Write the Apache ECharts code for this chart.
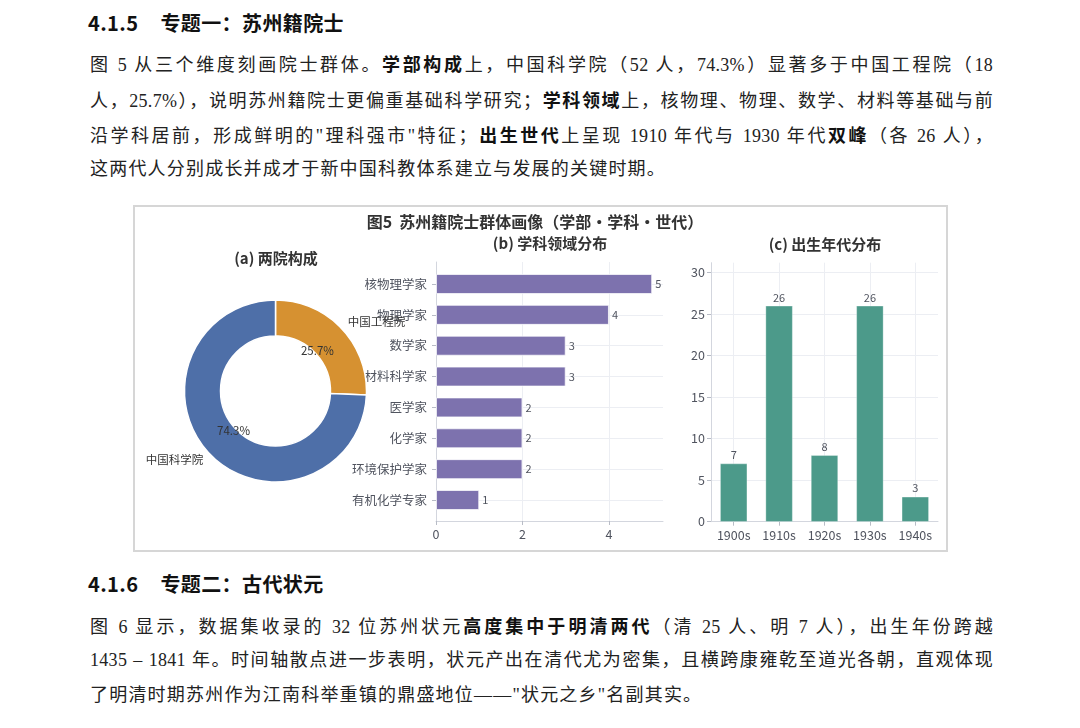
<!DOCTYPE html>
<html>
<head>
<meta charset="utf-8">
<script src="https://cdn.jsdelivr.net/npm/echarts@6/dist/echarts.min.js"></script>
<style>
  html, body { margin: 0; padding: 0; background: #fff; }
  body { width: 1080px; height: 728px; position: relative; overflow: hidden; }
  .h { position: absolute; left: 88px; height: 30px; line-height: 30px; font-family: "Noto Sans CJK SC", sans-serif; font-weight: 700; font-size: 20px; letter-spacing: 0.4px; color: #111; white-space: nowrap; }
  .h .t { margin-left: 22px; }
  .ln { position: absolute; left: 90px; width: 903px; height: 30px; line-height: 30px; font-family: "Liberation Serif", "Noto Sans CJK SC", serif; font-size: 18px; letter-spacing: 1.2px; color: #222; white-space: nowrap; }
  .j { text-align: justify; text-align-last: justify; white-space: normal; letter-spacing: 0.3px; }
  .ln b { font-family: "Noto Sans CJK SC", sans-serif; font-weight: 700; color: #111; }
  #frame { position: absolute; left: 133px; top: 205px; width: 815px; height: 347px; box-sizing: border-box; border: 2px solid #d6d6d6; }
  #container { position: absolute; left: 135px; top: 207px; width: 810px; height: 342px; }
</style>
</head>
<body>
<div class="h" style="top:8px"><span>4.1.5</span><span class="t">专题一：苏州籍院士</span></div>
<div class="ln j" style="top:48px">图 5 从三个维度刻画院士群体。<b>学部构成</b>上，中国科学院（52 人，74.3%）显著多于中国工程院（18</div>
<div class="ln j" style="top:84px">人，25.7%），说明苏州籍院士更偏重基础科学研究；<b>学科领域</b>上，核物理、物理、数学、材料等基础与前</div>
<div class="ln j" style="top:119px">沿学科居前，形成鲜明的"理科强市"特征；<b>出生世代</b>上呈现 1910 年代与 1930 年代<b>双峰</b>（各 26 人），</div>
<div class="ln" style="top:154px">这两代人分别成长并成才于新中国科教体系建立与发展的关键时期。</div>

<div id="frame"></div>
<div id="container"></div>

<div class="h" style="top:569px"><span>4.1.6</span><span class="t">专题二：古代状元</span></div>
<div class="ln j" style="top:610px">图 6 显示，数据集收录的 32 位苏州状元<b>高度集中于明清两代</b>（清 25 人、明 7 人），出生年份跨越</div>
<div class="ln j" style="top:645px">1435 – 1841 年。时间轴散点进一步表明，状元产出在清代尤为密集，且横跨康雍乾至道光各朝，直观体现</div>
<div class="ln" style="top:680px">了明清时期苏州作为江南科举重镇的鼎盛地位——"状元之乡"名副其实。</div>

<script type="text/javascript">
// data
var academyNames = ['中国工程院', '中国科学院'];
var academyCounts = [18, 52];
var academyColors = ['#D69131', '#4E6FA8'];

var fieldNames = ['核物理学家', '物理学家', '数学家', '材料科学家', '医学家', '化学家', '环境保护学家', '有机化学专家'];
var fieldCounts = [5, 4, 3, 3, 2, 2, 2, 1];

var decadeNames = ['1900s', '1910s', '1920s', '1930s', '1940s'];
var decadeCounts = [7, 26, 8, 26, 3];

var FONT = 'Noto Sans CJK SC';
var labelColor = '#50545f';
var gridColor = '#eceef3';
var spineColor = '#d3d6de';

var dom = document.getElementById('container');
var myChart = echarts.init(dom);

var pieData = academyNames.map(function (n, i) {
    return { name: n, value: academyCounts[i], itemStyle: { color: academyColors[i] } };
});

function titleOf(text, x, y, size) {
    return {
        text: text,
        left: x,
        top: y - (size + 4) / 2,
        padding: 0,
        textAlign: 'center',
        textVerticalAlign: 'top',
        textStyle: { fontFamily: FONT, fontSize: size, fontWeight: 'bold', color: '#333', lineHeight: size + 4 }
    };
}

var option = {
    animation: false,
    textStyle: { fontFamily: FONT },
    title: [
        titleOf('图5  苏州籍院士群体画像（学部・学科・世代）', 400, 15, 16),
        titleOf('(a) 两院构成', 141, 51, 15),
        titleOf('(b) 学科领域分布', 415, 36, 15),
        titleOf('(c) 出生年代分布', 690, 37, 15)
    ],
    grid: [
        { left: 301, right: 282, top: 55, bottom: 28 },   // (b) frame
        { left: 301, right: 282, top: 77, bottom: 49 },   // (b) bars
        { left: 576, right: 7, top: 55.7, bottom: 27.3 }  // (c)
    ],
    xAxis: [
        {
            gridIndex: 0, type: 'value', min: 0, max: 5.25, interval: 2,
            axisLine: { show: true, lineStyle: { color: spineColor } },
            axisTick: { show: true, length: 4, lineStyle: { color: '#b8bcc6' } },
            axisLabel: { color: labelColor, fontSize: 12.5, margin: 7, showMaxLabel: false },
            splitLine: { show: true, showMaxLine: false, lineStyle: { color: gridColor } }
        },
        { gridIndex: 1, type: 'value', min: 0, max: 5.25, show: false },
        {
            gridIndex: 2, type: 'category', data: decadeNames,
            axisLine: { show: true, lineStyle: { color: spineColor } },
            axisTick: { show: true, alignWithLabel: true, length: 4, lineStyle: { color: '#b8bcc6' } },
            axisLabel: { color: labelColor, fontSize: 12.5, margin: 7 },
            splitLine: { show: true, alignWithLabel: true, lineStyle: { color: gridColor } }
        }
    ],
    yAxis: [
        {
            gridIndex: 0, type: 'value', min: 0, max: 1,
            axisLine: { show: true, lineStyle: { color: spineColor } },
            axisTick: { show: false }, axisLabel: { show: false }, splitLine: { show: false }
        },
        {
            gridIndex: 1, type: 'category', data: fieldNames, inverse: true, boundaryGap: false,
            axisLine: { show: false },
            axisTick: { show: true, length: 4, lineStyle: { color: '#b8bcc6' } },
            axisLabel: { color: labelColor, fontSize: 12.5, margin: 9 },
            splitLine: { show: true, lineStyle: { color: gridColor } }
        },
        {
            gridIndex: 2, type: 'value', min: 0, max: 31.2, interval: 5,
            axisLine: { show: true, lineStyle: { color: spineColor } },
            axisTick: { show: true, length: 4, lineStyle: { color: '#b8bcc6' } },
            axisLabel: { color: labelColor, fontSize: 12.5, margin: 6, showMaxLabel: false },
            splitLine: { show: true, showMaxLine: false, lineStyle: { color: gridColor } }
        }
    ],
    series: [
        {
            name: '两院', type: 'pie',
            center: [140.5, 184], radius: [55, 91],
            startAngle: 90, clockwise: true,
            avoidLabelOverlap: false,
            itemStyle: { borderColor: '#fff', borderWidth: 1.5 },
            label: { show: true, position: 'outside', formatter: '{b}', color: '#333', fontSize: 11.5, distanceToLabelLine: 0 },
            labelLine: { show: false, length: 9, length2: 0 },
            emphasis: { disabled: true },
            data: pieData
        },
        {
            name: '占比', type: 'pie', silent: true,
            center: [140.5, 184], radius: [0, 110],
            startAngle: 90, clockwise: true,
            percentPrecision: 1,
            itemStyle: { color: 'transparent', borderWidth: 0 },
            label: { show: true, position: 'inside', formatter: '{d}%', color: '#333', fontSize: 11.5 },
            emphasis: { disabled: true },
            z: 5,
            data: academyNames.map(function (n, i) { return { name: n, value: academyCounts[i] }; })
        },
        {
            name: '学科', type: 'bar', xAxisIndex: 1, yAxisIndex: 1,
            data: fieldCounts, barWidth: 20, clip: false,
            itemStyle: { color: '#7D72AE', borderColor: 'rgba(255,255,255,0.7)', borderWidth: 1 },
            label: { show: true, position: 'right', distance: 3, color: labelColor, fontSize: 11 }
        },
        {
            name: '年代', type: 'bar', xAxisIndex: 2, yAxisIndex: 2,
            data: decadeCounts, barWidth: 27,
            itemStyle: { color: '#4C9A8A', borderColor: 'rgba(255,255,255,0.6)', borderWidth: 0.5 },
            label: { show: true, position: 'top', distance: 3, color: labelColor, fontSize: 11 }
        }
    ]
};

if (option && typeof option === 'object') {
    myChart.setOption(option, true);
}
</script>
</body>
</html>
